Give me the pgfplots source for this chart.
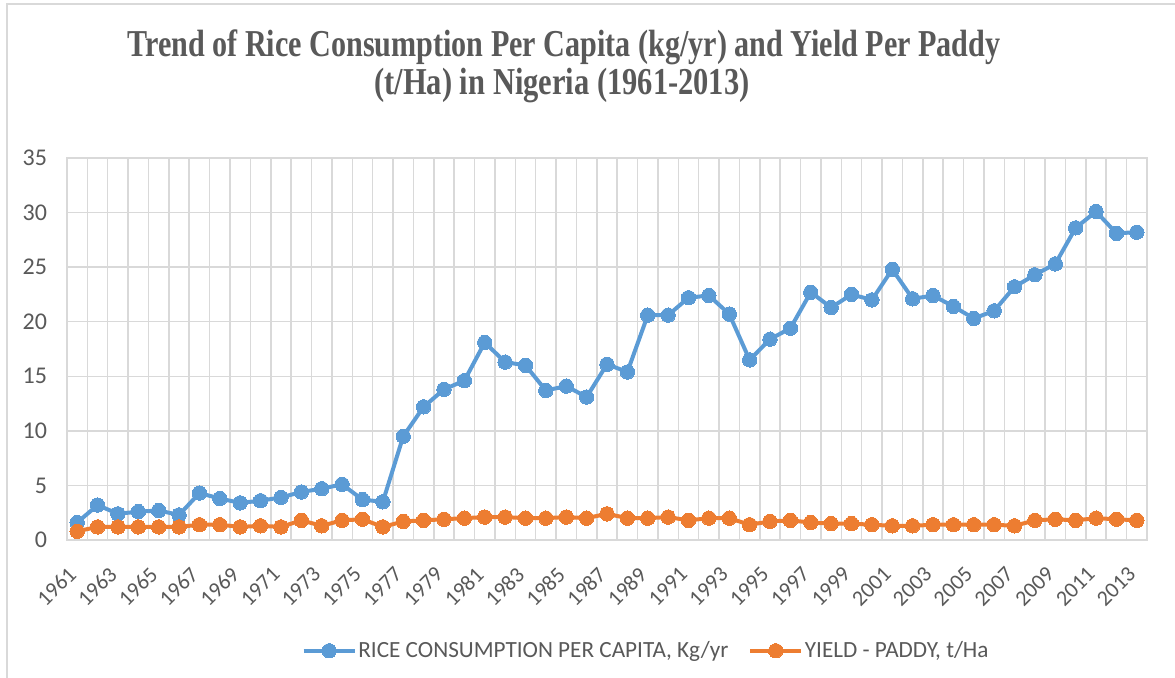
\documentclass[border=0pt]{standalone}
\usepackage{pgfplots}
\pgfplotsset{compat=1.18}
\usepackage{pgfplotstable}
\usepackage{graphicx}
\usepackage{fontspec}
\setmainfont{Carlito}
\newfontfamily\titlefont{Liberation Serif}
\definecolor{cblue}{HTML}{5B9BD5}
\definecolor{corange}{HTML}{ED7D31}
\definecolor{gridc}{HTML}{D9D9D9}
\definecolor{txtc}{HTML}{595959}
\pgfplotstableread{
year rice yield
1961 1.6 0.8
1962 3.2 1.2
1963 2.4 1.2
1964 2.6 1.2
1965 2.7 1.2
1966 2.3 1.2
1967 4.3 1.4
1968 3.8 1.4
1969 3.4 1.2
1970 3.6 1.3
1971 3.9 1.2
1972 4.4 1.8
1973 4.7 1.3
1974 5.1 1.8
1975 3.7 1.9
1976 3.5 1.2
1977 9.5 1.7
1978 12.2 1.8
1979 13.8 1.9
1980 14.6 2.0
1981 18.1 2.1
1982 16.3 2.1
1983 16.0 2.0
1984 13.7 2.0
1985 14.1 2.1
1986 13.1 2.0
1987 16.1 2.4
1988 15.4 2.0
1989 20.6 2.0
1990 20.6 2.1
1991 22.2 1.8
1992 22.4 2.0
1993 20.7 2.0
1994 16.5 1.4
1995 18.4 1.7
1996 19.4 1.8
1997 22.7 1.6
1998 21.3 1.5
1999 22.5 1.5
2000 22.0 1.4
2001 24.8 1.3
2002 22.1 1.3
2003 22.4 1.4
2004 21.4 1.4
2005 20.3 1.4
2006 21.0 1.4
2007 23.2 1.3
2008 24.3 1.8
2009 25.3 1.9
2010 28.6 1.8
2011 30.1 2.0
2012 28.1 1.9
2013 28.2 1.8
}\datatable
\begin{document}
\begin{tikzpicture}
\useasboundingbox (0,0) rectangle (587.5pt,338.5pt);
\fill[white] (0,0) rectangle (587.5pt,338.5pt);
\draw[gridc, line width=1pt] (3.5pt,-1pt) -- (3.5pt,336.5pt) -- (590pt,336.5pt);
\node[text=txtc, inner sep=0pt] at (282pt,315pt) {\resizebox{436.5pt}{\height}{\titlefont\bfseries\fontsize{19}{22}\selectfont Trend of Rice Consumption Per Capita (kg/yr) and Yield Per Paddy}};
\node[text=txtc, inner sep=0pt] at (281pt,295.5pt) {\resizebox{187.5pt}{\height}{\titlefont\bfseries\fontsize{19}{22}\selectfont (t/Ha) in Nigeria (1961-2013)}};
\begin{axis}[
  at={(33.5pt,68.5pt)}, anchor=south west,
  scale only axis, width=540pt, height=191pt,
  xmin=1960.5, xmax=2013.5, ymin=0, ymax=35,
  ytick={0,5,...,35},
  xtick={1961,1963,...,2013},
  xticklabels={1961,1963,1965,1967,1969,1971,1973,1975,1977,1979,1981,1983,1985,1987,1989,1991,1993,1995,1997,1999,2001,2003,2005,2007,2009,2011,2013},
  minor xtick={1960.5,1961.5,...,2013.5},
  major tick length=0pt, minor tick length=0pt,
  xminorgrids, ymajorgrids, xmajorgrids=false,
  grid style={gridc, line width=0.75pt},
  minor grid style={gridc, line width=0.75pt},
  axis line style={gridc, line width=0.75pt},
  /pgf/number format/assume math mode=true,
  tick label style={text=txtc},
  yticklabel style={font=\fontsize{12}{14}\selectfont, xshift=-6.5pt},
  xticklabel style={font=\fontsize{11}{13}\selectfont, yshift=-13pt, xshift=0pt, rotate=45, anchor=east},
  legend columns=2,
  legend style={at={(0.536,-0.29)}, anchor=center, draw=none, fill=none,
    font=\fontsize{11.6}{13}\selectfont, text=txtc,
    nodes={inner sep=0.8pt},
    /tikz/every odd column/.append style={column sep=0pt},
    /tikz/every even column/.append style={column sep=9pt}},
  legend cell align=left,
  legend image code/.code={\draw[mark repeat=2,mark phase=2,#1] plot coordinates {(0cm,0cm) (0.45cm,0cm) (0.9cm,0cm)};},
]
\addplot[cblue, line width=2pt, line join=round, mark=*, mark size=3.6pt, mark options={fill=cblue, draw=cblue, line width=0pt}] table[x=year, y=rice] {\datatable};
\addlegendentry{RICE CONSUMPTION PER CAPITA, Kg/yr}
\addplot[corange, line width=2pt, line join=round, mark=*, mark size=3.6pt, mark options={fill=corange, draw=corange, line width=0pt}] table[x=year, y=yield] {\datatable};
\addlegendentry{YIELD - PADDY, t/Ha}
\end{axis}
\end{tikzpicture}
\end{document}
